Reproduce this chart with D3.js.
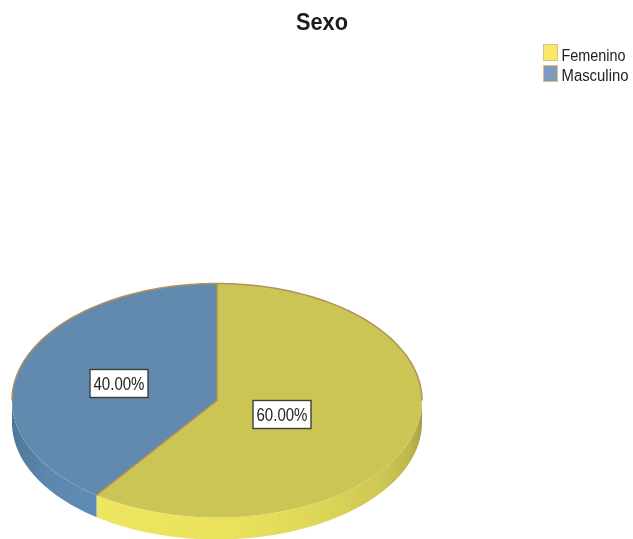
<!DOCTYPE html>
<html><head><meta charset="utf-8">
<script src="https://cdnjs.cloudflare.com/ajax/libs/d3/7.8.5/d3.min.js"></script>
<style>html,body{margin:0;background:#fff}svg{display:block}text{font-family:"Liberation Sans",Arial,sans-serif}</style>
</head><body><svg width="633" height="539"></svg>
<script>
const categories = ["Femenino","Masculino"];
const values = [60,40];
const labels = ["60.00%","40.00%"];
const topColors = ["#cbc557","#628aae"];
const swatchColors = ["#fbe86a","#7b9bbd"];
const cx=217, cy=400.5, rx=205, ry=117, depth=22;
const svg=d3.select("svg");
const defs=svg.append("defs");
defs.append("filter").attr("id","soft").append("feGaussianBlur").attr("stdDeviation",0.6);
defs.append("filter").attr("id","softText").append("feGaussianBlur").attr("stdDeviation",0.35);
const g0=defs.append("linearGradient").attr("id","side0").attr("gradientUnits","userSpaceOnUse")
 .attr("x1",cx-rx).attr("x2",cx+rx).attr("y1",0).attr("y2",0);
[[0.2,"#eee65f"],[0.55,"#eae15c"],[0.75,"#dcd658"],[0.9,"#cdc754"],[0.97,"#bdb84e"],[1,"#a3a044"]].forEach(s=>g0.append("stop").attr("offset",s[0]).attr("stop-color",s[1]));
const g1=defs.append("linearGradient").attr("id","side1").attr("gradientUnits","userSpaceOnUse")
 .attr("x1",cx-rx).attr("x2",cx-120).attr("y1",0).attr("y2",0);
[[0,"#4f769b"],[0.4,"#5c86ac"],[1,"#5f8db8"]].forEach(s=>g1.append("stop").attr("offset",s[0]).attr("stop-color",s[1]));

const pie=d3.pie().sort(null).value(d=>d)(values);
const arc=d3.arc().innerRadius(0).outerRadius(1);
const root=svg.append("g").attr("filter","url(#soft)");
const px=a=>cx+rx*Math.sin(a), py=a=>cy-ry*Math.cos(a);
pie.forEach((p,i)=>{
  const a0=Math.max(p.startAngle,Math.PI/2), a1=Math.min(p.endAngle,3*Math.PI/2);
  if(a1<=a0) return;
  const angs=d3.range(0,61).map(k=>a0+(a1-a0)*k/60);
  const rim=d3.area().x(a=>px(a)).y0(a=>py(a)).y1(a=>py(a)+depth)(angs);
  root.append("path").attr("d",rim).attr("fill",`url(#side${i})`);
});
root.append("g").attr("transform",`translate(${cx},${cy}) scale(${rx},${ry})`)
 .selectAll("path").data(pie).join("path").attr("d",arc)
 .attr("fill",(d,i)=>topColors[i]);
// outline: slice divisions and the back half of the rim only
const backArc=d3.range(-60,61).map(k=>k/60*Math.PI/2);
const edge="#b48f5a";
root.append("path").attr("d",d3.line().x(px).y(py)(backArc)).attr("fill","none").attr("stroke",edge).attr("stroke-width",1.5);
const splitA=pie[0].endAngle;
root.append("path").attr("d",d3.line()([[px(0),py(0)],[cx,cy],[px(splitA),py(splitA)]])).attr("fill","none").attr("stroke",edge).attr("stroke-width",1.5);

const lblPos=[[282,414.5],[119,383.5]];
labels.forEach((t,i)=>{
  const [x,y]=lblPos[i];
  const l=svg.append("g").attr("filter","url(#softText)");
  l.append("rect").attr("x",x-29).attr("y",y-14).attr("width",58).attr("height",28)
   .attr("fill","#fff").attr("stroke","#3a3f3a").attr("stroke-width",1.4);
  l.append("text").attr("x",x).attr("y",y+6.5).attr("text-anchor","middle").attr("font-size",18)
   .attr("textLength",51).attr("lengthAdjust","spacingAndGlyphs").attr("fill","#222").text(t);
});
svg.append("text").attr("x",322).attr("y",30).attr("text-anchor","middle").attr("filter","url(#softText)")
 .attr("font-size",23).attr("font-weight","bold").attr("textLength",52).attr("lengthAdjust","spacingAndGlyphs").attr("fill","#1a1a1a").text("Sexo");
const leg=svg.append("g").attr("filter","url(#softText)");
categories.forEach((c,i)=>{
  const y=44.5+i*21;
  leg.append("rect").attr("x",543.5).attr("y",y).attr("width",14).attr("height",16)
   .attr("fill",swatchColors[i]).attr("stroke","#e0bf80").attr("stroke-width",1);
  leg.append("text").attr("x",561.5).attr("y",i?81:61).attr("font-size",16)
   .attr("textLength",i?67:64).attr("lengthAdjust","spacingAndGlyphs").attr("fill","#222").text(c);
});
</script></body></html>
